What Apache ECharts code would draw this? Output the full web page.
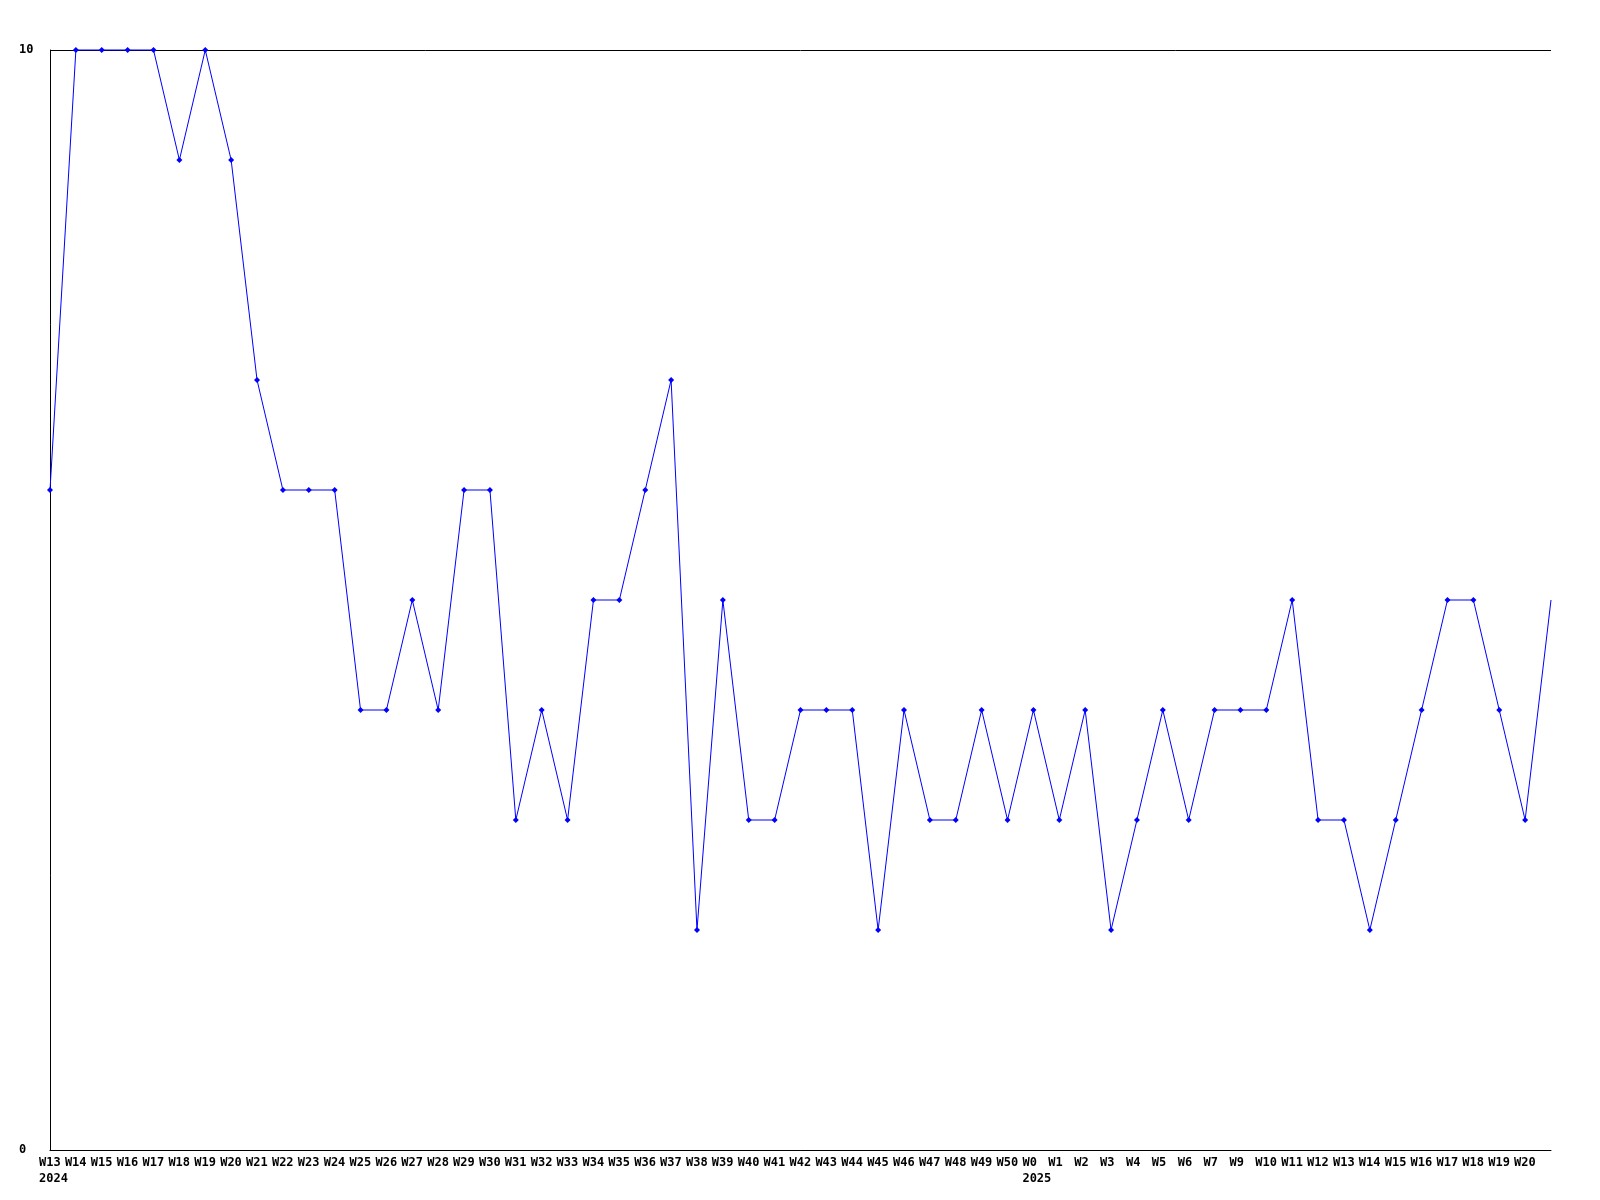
<!DOCTYPE html>
<html>
<head>
<meta charset="utf-8">
<script src="https://cdn.jsdelivr.net/npm/echarts@6/dist/echarts.min.js"></script>
<style>html,body{margin:0;padding:0;background:#fff}#c{width:1600px;height:1200px}</style>
</head>
<body>
<div id="c"></div>
<script>
const weeks = ['W13','W14','W15','W16','W17','W18','W19','W20','W21','W22','W23','W24','W25','W26','W27','W28','W29','W30','W31','W32','W33','W34','W35','W36','W37','W38','W39','W40','W41','W42','W43','W44','W45','W46','W47','W48','W49','W50',
  'W0','W1','W2','W3','W4','W5','W6','W7','W9','W10','W11','W12','W13','W14','W15','W16','W17','W18','W19','W20',''];
const years = ['2024','','','','','','','','','','','','','','','','','','','','','','','','','','','','','','','','','','','','','',
  '2025','','','','','','','','','','','','','','','','','','','',''];
const values = [6,10,10,10,10,9,10,9,7,6,6,6,4,4,5,4,6,6,3,4,3,5,5,6,7,2,5,3,3,4,4,4,2,4,3,3,4,3,
  4,3,4,2,3,4,3,4,4,4,5,3,3,2,3,4,5,5,4,3,5];
const yTicks = [0, 10];

const font = '"DejaVu Sans Mono", monospace';
const seriesData = values.map((v, i) => (weeks[i] === '' ? { value: v, symbol: 'none' } : v));

const chart = echarts.init(document.getElementById('c'), null, { renderer: 'canvas' });
chart.setOption({
  animation: false,
  backgroundColor: '#ffffff',
  grid: { left: 50, right: 49, top: 50, bottom: 50, containLabel: false },
  xAxis: {
    type: 'category',
    data: weeks,
    boundaryGap: false,
    axisLine: { show: true, lineStyle: { color: '#000', width: 1 } },
    axisTick: { show: false },
    splitLine: { show: false },
    axisLabel: {
      interval: 0,
      hideOverlap: false,
      margin: 5,
      align: 'center',
      formatter: function (val, idx) {
        const y = years[idx];
        return y ? '{a|' + val + '}\n{a|' + y + '}' : '{a|' + val + '}';
      },
      rich: {
        a: { width: 22, align: 'left', lineHeight: 16, fontFamily: font, fontWeight: 'bold', fontSize: 12, color: '#000' }
      }
    }
  },
  yAxis: {
    type: 'value',
    min: yTicks[0],
    max: yTicks[1],
    interval: yTicks[1] - yTicks[0],
    axisLine: { show: true, lineStyle: { color: '#000', width: 1 } },
    axisTick: { show: false },
    splitLine: { show: true, lineStyle: { color: '#000', width: 1 } },
    axisLabel: {
      margin: 31,
      align: 'left',
      padding: [4, 0, 0, 0],
      fontFamily: font,
      fontWeight: 'bold',
      fontSize: 12,
      color: '#000'
    }
  },
  series: [{
    type: 'line',
    data: seriesData,
    symbol: 'diamond',
    symbolSize: 6,
    showAllSymbol: true,
    clip: false,
    lineStyle: { color: '#0000ff', width: 1 },
    itemStyle: { color: '#0000ff' },
    emphasis: { disabled: true }
  }]
});
</script>
</body>
</html>
